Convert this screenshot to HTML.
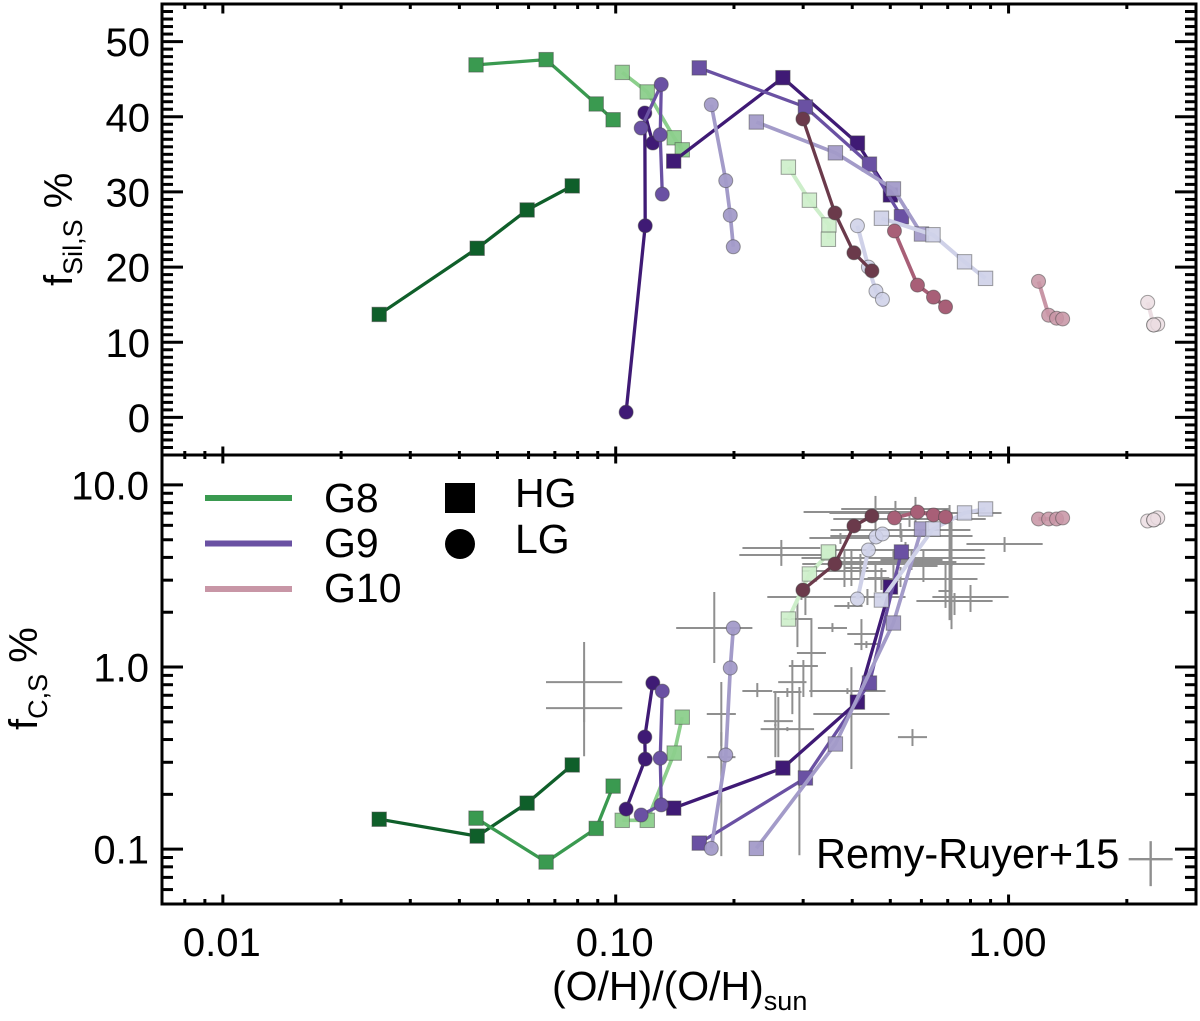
<!DOCTYPE html>
<html lang="en">
<head>
<meta charset="utf-8">
<title>Dust mass fractions versus metallicity</title>
<style>
html,body{margin:0;padding:0;background:#fff;}
#chart{display:block;width:1200px;height:1021px;}
text{font-family:"Liberation Sans",Arial,sans-serif;fill:#000;}
</style>
</head>
<body>
<svg id="chart" xmlns="http://www.w3.org/2000/svg" width="1200" height="1021" viewBox="0 0 1200 1021">
  <rect x="0" y="0" width="1200" height="1021" fill="#fff"/>
  <g id="obs"></g>
  <g id="series"></g>
  <g id="axes"></g>
  <g id="ticklabels" font-size="40"></g>

  <text transform="translate(72,286) rotate(-90)" font-size="40">f<tspan font-size="27" dy="10">Sil,S</tspan><tspan dy="-10"> %</tspan></text>
  <text transform="translate(37,730) rotate(-90)" font-size="40">f<tspan font-size="27" dy="10">C,S</tspan><tspan dy="-10"> %</tspan></text>
  <text x="552" y="1000" font-size="41">(O/H)/(O/H)<tspan font-size="27" dy="10">sun</tspan></text>

  <g>
    <rect x="205" y="495" width="87" height="6" fill="#3a9a50"/>
    <rect x="205" y="540.5" width="87" height="6" fill="#6a51a3"/>
    <rect x="205" y="586" width="87" height="6" fill="#c896a6"/>
    <text x="324" y="512" font-size="41">G8</text>
    <text x="324" y="557" font-size="41">G9</text>
    <text x="324" y="602" font-size="41">G10</text>
    <rect x="445" y="483" width="30" height="30" fill="#000"/>
    <circle cx="460" cy="544" r="15" fill="#000"/>
    <text x="515" y="507" font-size="41">HG</text>
    <text x="515" y="553" font-size="41">LG</text>
    <text x="816" y="868" font-size="41.5">Remy-Ruyer+15</text>
  </g>
</svg>
<script>
// Metallicity (O/H)/(O/H)sun, silicate fraction % and carbon fraction % per track
const g8hg1OH  = [0.0250, 0.0444, 0.0595, 0.0775];
const g8hg1Sil = [13.7, 22.5, 27.6, 30.8];
const g8hg1C   = [0.146, 0.118, 0.179, 0.290];

const g8hg2OH  = [0.0441, 0.0665, 0.0892, 0.0985];
const g8hg2Sil = [46.9, 47.6, 41.7, 39.6];
const g8hg2C   = [0.148, 0.085, 0.130, 0.222];

const g8hg3OH  = [0.1039, 0.1203, 0.1409, 0.1477];
const g8hg3Sil = [45.9, 43.3, 37.2, 35.6];
const g8hg3C   = [0.144, 0.144, 0.337, 0.531];

const g8hg4OH  = [0.2751, 0.3112, 0.3489, 0.3478];
const g8hg4Sil = [33.3, 28.9, 25.6, 23.7];
const g8hg4C   = [1.835, 3.243, 4.231, 4.285];

const g9hg1OH  = [0.1405, 0.2664, 0.4124, 0.5004];
const g9hg1Sil = [34.1, 45.2, 36.5, 29.6];
const g9hg1C   = [0.168, 0.279, 0.642, 2.751];

const g9hg2OH  = [0.1632, 0.3040, 0.4425, 0.5337];
const g9hg2Sil = [46.5, 41.3, 33.7, 26.7];
const g9hg2C   = [0.108, 0.246, 0.817, 4.285];

const g9hg3OH  = [0.2280, 0.3624, 0.5093, 0.6003];
const g9hg3Sil = [39.3, 35.2, 30.4, 24.4];
const g9hg3C   = [0.101, 0.378, 1.745, 5.731];

const g9hg4OH  = [0.4747, 0.6422, 0.7726, 0.8738];
const g9hg4Sil = [26.5, 24.3, 20.7, 18.5];
const g9hg4C   = [2.334, 5.731, 7.018, 7.381];

const g9lg1OH  = [0.1063, 0.1189, 0.1186, 0.1243];
const g9lg1Sil = [0.7, 25.5, 40.5, 36.5];
const g9lg1C   = [0.166, 0.312, 0.413, 0.817];

const g9lg2OH  = [0.1161, 0.1306, 0.1298, 0.1314];
const g9lg2Sil = [38.5, 44.3, 37.6, 29.7];
const g9lg2C   = [0.154, 0.175, 0.316, 0.738];

const g9lg3OH  = [0.1751, 0.1906, 0.1957, 0.1992];
const g9lg3Sil = [41.6, 31.5, 26.9, 22.7];
const g9lg3C   = [0.101, 0.329, 0.988, 1.638];

const g9lg4OH  = [0.4124, 0.4398, 0.4597, 0.4775];
const g9lg4Sil = [25.5, 20.0, 16.8, 15.7];
const g9lg4C   = [2.364, 4.395, 5.180, 5.380];

const g10lg1OH  = [0.2996, 0.3614, 0.4040, 0.4489];
const g10lg1Sil = [39.7, 27.2, 21.9, 19.5];
const g10lg1C   = [2.649, 3.680, 5.952, 6.755];

const g10lg2OH  = [0.5123, 0.5864, 0.6440, 0.6911];
const g10lg2Sil = [24.8, 17.6, 16.0, 14.7];
const g10lg2C   = [6.589, 7.105, 6.842, 6.670];

const g10lg3OH  = [1.192, 1.265, 1.325, 1.373];
const g10lg3Sil = [18.1, 13.6, 13.2, 13.1];
const g10lg3C   = [6.505, 6.505, 6.505, 6.589];

const g10lg4OH  = [2.260, 2.341, 2.397, 2.341];
const g10lg4Sil = [15.3, 12.3, 12.4, 12.3];
const g10lg4C   = [6.342, 6.424, 6.589, 6.424];

// Remy-Ruyer+15 observations: values and errors in dex
const obsOH = [0.0831,0.0831,0.1782,0.1857,0.1857,0.2293,0.2735,0.2816,0.3004,0.3149,0.2901,0.3562,0.4222,0.4347,0.5694,0.3981,0.3889,0.2594,0.2735,0.2549,0.2935,
  0.4584,0.5153,0.5795,0.5596,0.5308,0.5337,0.3733,0.9768,0.2640,0.2640,0.5465,0.5093,0.5662,0.5214,0.5093,0.3822,0.5308,0.6911,0.3040,0.8000,0.2970,0.4373,0.7285,0.3912,0.7158,0.6071,0.3981,0.4197,0.4584,0.4747,0.7076];
const obsF = [0.827,0.595,1.638,0.552,0.3204,0.7382,0.729,0.827,1.013,1.194,1.835,1.638,1.518,1.338,0.4125,0.552,0.7382,0.505,0.4565,0.480,0.2683,
  7.105,7.381,7.018,6.505,5.659,5.247,5.114,4.741,4.506,4.125,4.395,3.969,3.871,3.775,3.680,3.369,3.044,2.616,2.424,2.424,2.424,2.424,2.305,2.164,3.635,3.589,3.499,3.499,3.083,3.083,3.775];
const obsXerr = [0.097,0.097,0.097,0.037,0.036,0.038,0.036,0.036,0.037,0.037,0.036,0.037,0.036,0.031,0.037,0.097,0.097,0.037,0.068,0.003,0.003,
  0.183,0.138,0.219,0.194,0.178,0.181,0.079,0.097,0.099,0.107,0.201,0.234,0.079,0.150,0.232,0.107,0.196,0.018,0.097,0.097,0.036,0.097,0.097,0.036,0.003,0.036,0.020,0.020,0.020,0.020,0.003];
const obsYerrUp = [0.220,0.264,0.198,0.176,0.137,0.044,0.022,0.121,0.033,0.192,0.104,0.027,0.082,0.016,0.044,0.258,0.016,0.132,0.011,0.181,0.462,
  0.088,0.044,0.088,0.044,0.038,0.033,0.027,0.038,0.044,0.038,0.044,0.044,0.055,0.044,0.066,0.115,0.066,0.154,0.005,0.066,0.005,0.044,0.044,0.022,0.286,0.088,0.099,0.077,0.082,0.055,0.313];
const obsYerrDown = [0.220,0.264,0.192,0.176,0.544,0.033,0.027,0.176,0.170,0.242,0.154,0.022,0.088,0.022,0.049,0.302,0.016,0.198,0.011,0.176,0.462,
  0.099,0.044,0.066,0.044,0.044,0.033,0.033,0.044,0.049,0.060,0.044,0.055,0.055,0.110,0.082,0.088,0.044,0.093,0.099,0.082,0.016,0.044,0.077,0.016,0.352,0.088,0.099,0.077,0.077,0.066,0.319];

// Reference error cross printed beside the Remy-Ruyer+15 label
const refCrossOH = [2.300];
const refCrossF = [0.0881];
const refCrossXerr = [0.056];
const refCrossYerrUp = [0.099];
const refCrossYerrDown = [0.148];

// Axis tick values and labels
const xMajorTicks = [0.01, 0.1, 1];
const xMinorTicks = [0.008,0.009,0.02,0.03,0.04,0.05,0.06,0.07,0.08,0.09,0.2,0.3,0.4,0.5,0.6,0.7,0.8,0.9,2];
const xTickLabels = ['0.01','0.10','1.00'];
const topMajorTicks = [0,10,20,30,40,50];
const topTickLabels = ['0','10','20','30','40','50'];
const botMajorTicks = [0.1,1,10];
const botMinorTicks = [0.06,0.07,0.08,0.09,0.2,0.3,0.4,0.5,0.6,0.7,0.8,0.9,2,3,4,5,6,7,8,9];
const botTickLabels = ['0.1','1.0','10.0'];

const seriesList = [
  {name:'g8-hg-1',oh:g8hg1OH,sil:g8hg1Sil,c:g8hg1C,color:'#0f5f2a',marker:'square',w:3.3,op:1},
  {name:'g8-hg-2',oh:g8hg2OH,sil:g8hg2Sil,c:g8hg2C,color:'#3a9a50',marker:'square',w:3.3,op:1},
  {name:'g8-hg-3',oh:g8hg3OH,sil:g8hg3Sil,c:g8hg3C,color:'#8ccf8c',marker:'square',w:3.7,op:0.95},
  {name:'g8-hg-4',oh:g8hg4OH,sil:g8hg4Sil,c:g8hg4C,color:'#cdeeca',marker:'square',w:4,op:0.9},
  {name:'g9-hg-1',oh:g9hg1OH,sil:g9hg1Sil,c:g9hg1C,color:'#3f1a75',marker:'square',w:3.3,op:1},
  {name:'g9-hg-2',oh:g9hg2OH,sil:g9hg2Sil,c:g9hg2C,color:'#6a51a3',marker:'square',w:3.3,op:1},
  {name:'g9-hg-3',oh:g9hg3OH,sil:g9hg3Sil,c:g9hg3C,color:'#a39bc9',marker:'square',w:3.7,op:0.95},
  {name:'g9-hg-4',oh:g9hg4OH,sil:g9hg4Sil,c:g9hg4C,color:'#cfd1e8',marker:'square',w:4,op:0.92},
  {name:'g9-lg-1',oh:g9lg1OH,sil:g9lg1Sil,c:g9lg1C,color:'#3f1a75',marker:'circle',w:3.3,op:1},
  {name:'g9-lg-2',oh:g9lg2OH,sil:g9lg2Sil,c:g9lg2C,color:'#6a51a3',marker:'circle',w:3.3,op:1},
  {name:'g9-lg-3',oh:g9lg3OH,sil:g9lg3Sil,c:g9lg3C,color:'#a39bc9',marker:'circle',w:3.7,op:0.95},
  {name:'g9-lg-4',oh:g9lg4OH,sil:g9lg4Sil,c:g9lg4C,color:'#cfd1e8',marker:'circle',w:4,op:0.88},
  {name:'g10-lg-1',oh:g10lg1OH,sil:g10lg1Sil,c:g10lg1C,color:'#6b3a4b',marker:'circle',w:3.3,op:1},
  {name:'g10-lg-2',oh:g10lg2OH,sil:g10lg2Sil,c:g10lg2C,color:'#a85f77',marker:'circle',w:3.7,op:1},
  {name:'g10-lg-3',oh:g10lg3OH,sil:g10lg3Sil,c:g10lg3C,color:'#c896a6',marker:'circle',w:4,op:0.88},
  {name:'g10-lg-4',oh:g10lg4OH,sil:g10lg4Sil,c:g10lg4C,color:'#ebdde2',marker:'circle',w:4,op:0.82}
];

const NS = 'http://www.w3.org/2000/svg';
const PLOT_LEFT = 162, PLOT_RIGHT = 1196, PLOT_TOP = 4, PLOT_MID = 455, PLOT_BOTTOM = 904;
const X_MIN = 0.007, X_MAX = 3.0;
const TOP_MIN = -5, TOP_MAX = 55;
const BOT_MIN = 0.05, BOT_MAX = 14.6;

function xScale(v){
  return PLOT_LEFT + (Math.log10(v) - Math.log10(X_MIN)) / (Math.log10(X_MAX) - Math.log10(X_MIN)) * (PLOT_RIGHT - PLOT_LEFT);
}
function yTop(v){
  return PLOT_MID - (v - TOP_MIN) / (TOP_MAX - TOP_MIN) * (PLOT_MID - PLOT_TOP);
}
function yBot(v){
  return PLOT_BOTTOM - (Math.log10(v) - Math.log10(BOT_MIN)) / (Math.log10(BOT_MAX) - Math.log10(BOT_MIN)) * (PLOT_BOTTOM - PLOT_MID);
}
function make(tag, props, parent){
  const el = document.createElementNS(NS, tag);
  for (const k in props) el.setAttribute(k, props[k]);
  parent.appendChild(el);
  return el;
}
function drawLine(x1, y1, x2, y2, parent, stroke, width){
  return make('line', {x1:x1, y1:y1, x2:x2, y2:y2, stroke:stroke, 'stroke-width':width}, parent);
}

// Observations
const obsGroup = document.getElementById('obs');
function drawCross(oh, f, xerr, up, down, parent, width){
  const g = make('g', {}, parent);
  
  
  const cx = xScale(oh), cy = yBot(f);
  const left = xScale(oh / Math.pow(10, xerr));
  const right = xScale(oh * Math.pow(10, xerr));
  const top = yBot(f * Math.pow(10, up));
  const bottom = yBot(f / Math.pow(10, down));
  drawLine(left, cy, right, cy, g, '#8f8f8f', width);
  drawLine(cx, top, cx, bottom, g, '#8f8f8f', width);
}
obsOH.forEach(function(oh, i){
  drawCross(oh, obsF[i], obsXerr[i], obsYerrUp[i], obsYerrDown[i], obsGroup, 2);
});
refCrossOH.forEach(function(oh, i){
  drawCross(oh, refCrossF[i], refCrossXerr[i], refCrossYerrUp[i], refCrossYerrDown[i], obsGroup, 2.4);
});

// Series
const seriesGroup = document.getElementById('series');
function drawTrack(s, ys, yFn, parent, panel){
  const g = make('g', {}, parent);
  
  
  const pts = s.oh.map(function(v, i){ return xScale(v).toFixed(1) + ',' + yFn(ys[i]).toFixed(1); }).join(' ');
  make('polyline', {points:pts, fill:'none', stroke:s.color, 'stroke-width':s.w, 'stroke-linejoin':'round'}, g);
  s.oh.forEach(function(v, i){
    const px = xScale(v), py = yFn(ys[i]);
    let m;
    if (s.marker === 'square') {
      m = make('rect', {x:px - 7.2, y:py - 7.2, width:14.4, height:14.4}, g);
    } else {
      m = make('circle', {cx:px, cy:py, r:7}, g);
    }
    m.setAttribute('fill', s.color);
    m.setAttribute('fill-opacity', s.op);
    m.setAttribute('stroke', 'rgba(70,70,70,0.5)');
    m.setAttribute('stroke-width', '1');
    
    
  });
}
const topClip = make('g', {}, seriesGroup);


const botClip = make('g', {}, seriesGroup);


seriesList.forEach(function(s){
  drawTrack(s, s.sil, yTop, topClip, 'silicate');
  drawTrack(s, s.c, yBot, botClip, 'carbon');
});

// Axes
const axes = document.getElementById('axes');
const AXIS_COLOR = '#000';
const frame = make('path', {
  d:'M' + PLOT_LEFT + ' ' + PLOT_TOP + 'H' + PLOT_RIGHT + 'V' + PLOT_BOTTOM + 'H' + PLOT_LEFT + 'Z M' + PLOT_LEFT + ' ' + PLOT_MID + 'H' + PLOT_RIGHT,
  fill:'none', stroke:AXIS_COLOR, 'stroke-width':3
}, axes);



const xTicksGroup = make('g', {}, axes);


function xTickAt(v, len, width){
  const px = xScale(v);
  drawLine(px, PLOT_TOP, px, PLOT_TOP + len + 1, xTicksGroup, AXIS_COLOR, width);
  drawLine(px, PLOT_MID - len, px, PLOT_MID + len, xTicksGroup, AXIS_COLOR, width);
  drawLine(px, PLOT_BOTTOM, px, PLOT_BOTTOM - len - 1, xTicksGroup, AXIS_COLOR, width);
}
xMajorTicks.forEach(function(v){ xTickAt(v, 8.5, 3); });
xMinorTicks.forEach(function(v){ xTickAt(v, 4, 3); });

const yTicksGroup = make('g', {}, axes);


function yTickAt(py, len){
  drawLine(PLOT_LEFT, py, PLOT_LEFT + len, py, yTicksGroup, AXIS_COLOR, 3);
  drawLine(PLOT_RIGHT, py, PLOT_RIGHT - len, py, yTicksGroup, AXIS_COLOR, 3);
}
for (let v = TOP_MIN + 1; v < TOP_MAX; v++) {
  yTickAt(yTop(v), topMajorTicks.indexOf(v) >= 0 ? 21 : 11);
}
botMajorTicks.forEach(function(v){ yTickAt(yBot(v), 21); });
botMinorTicks.forEach(function(v){ yTickAt(yBot(v), 11); });

// Tick labels
const labels = document.getElementById('ticklabels');
xMajorTicks.forEach(function(v, i){
  const t = make('text', {x:xScale(v) - 1, y:956, 'text-anchor':'middle'}, labels);
  
  
  t.textContent = xTickLabels[i];
});
topMajorTicks.forEach(function(v, i){
  const t = make('text', {x:150, y:yTop(v) + 14.5, 'text-anchor':'end'}, labels);
  
  
  t.textContent = topTickLabels[i];
});
botMajorTicks.forEach(function(v, i){
  const t = make('text', {x:149, y:yBot(v) + 14.5, 'text-anchor':'end'}, labels);
  
  
  t.textContent = botTickLabels[i];
});
</script>
</body>
</html>
